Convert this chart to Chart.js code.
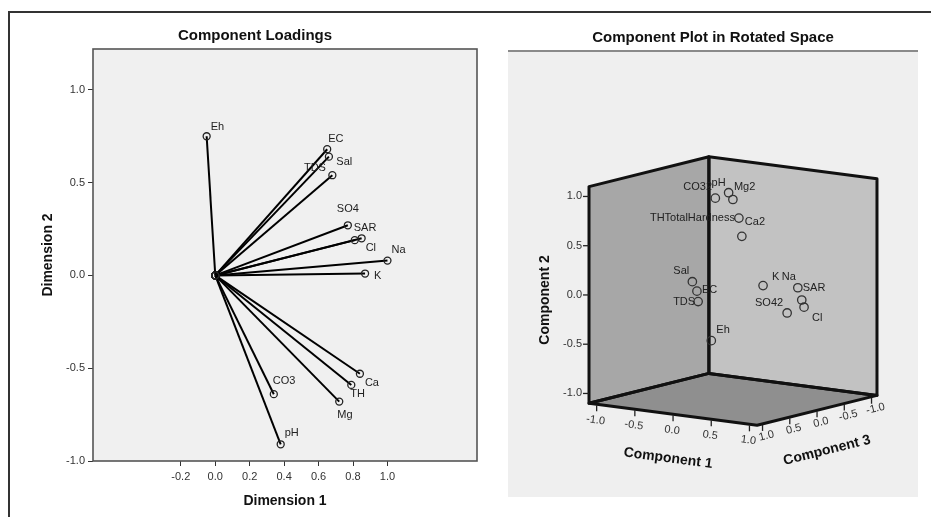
<!DOCTYPE html>
<html>
<head>
<meta charset="utf-8">
<script src="https://cdn.jsdelivr.net/npm/chart.js@4.4.1/dist/chart.umd.min.js"></script>
<style>
  html, body { margin: 0; padding: 0; background: #fff; }
  body { width: 931px; height: 517px; position: relative; overflow: hidden; }
  #frame { position: absolute; left: 8px; top: 11px; width: 1000px; height: 600px; border-top: 2px solid #333; border-left: 2px solid #333; }
  #loadings { position: absolute; left: 0; top: 0; }
  #rotated { position: absolute; left: 508px; top: 0; }
</style>
</head>
<body>
<div id="frame"></div>
<canvas id="loadings" width="510" height="517"></canvas>
<canvas id="rotated" width="410" height="497"></canvas>
<script>
'use strict';

const FONT = '"Liberation Sans", Arial, sans-serif';

// left panel: component loadings
const loadingNames = ['Eh', 'EC', 'TDS', 'Sal', 'SO4', 'SAR', 'Cl', 'Na', 'K', 'Ca', 'TH', 'Mg', 'CO3', 'pH'];
const dimension1 = [-0.05, 0.65, 0.66, 0.68, 0.77, 0.81, 0.85, 1.00, 0.87, 0.84, 0.79, 0.72, 0.34, 0.38];
const dimension2 = [0.75, 0.68, 0.64, 0.54, 0.27, 0.19, 0.20, 0.08, 0.01, -0.53, -0.59, -0.68, -0.64, -0.91];
const dimTicksX = [-0.2, 0.0, 0.2, 0.4, 0.6, 0.8, 1.0];
const dimTicksY = [-1.0, -0.5, 0.0, 0.5, 1.0];

// right panel: component plot in rotated space
const componentNames = ['CO32', 'pH', 'Mg2', 'THTotalHardness', 'Ca2', 'Sal', 'EC', 'TDS', 'Eh', 'K', 'Na', 'SAR', 'Cl', 'SO42'];
const component1 = [-0.16, -0.20, 0.07, 0.22, 0.33, 0.11, 0.17, 0.20, -0.07, 0.75, 0.92, 0.90, 0.93, 0.78];
const component2 = [0.94, 0.95, 0.95, 0.79, 0.63, 0.23, 0.14, 0.04, -0.47, 0.20, 0.14, 0.00, -0.07, -0.13];
const component3 = [0.10, -0.20, 0.10, 0.20, 0.30, 0.90, 0.90, 0.92, 0.30, 0.50, 0.10, 0.00, 0.00, 0.10];
const compTicks = [-1.0, -0.5, 0.0, 0.5, 1.0];

// label placement (dx, dy, align) - styling only
const loadingLabelPos = [[4, -9], [1, -10], [-25, 11], [4, -13], [-11, -16], [-1, -12], [4, 10],
  [4, -11], [9, 2], [5, 9], [-1, 9], [-2, 13], [-1, -13], [4, -11]];
const componentLabelPos = [[-32, -11], [-17, -10], [1, -13], [-4, 0, 'right'], [3, -14], [-19, -11], [5, -1],
  [-3, 0, 'right'], [5, -11], [9, -9], [-16, -11], [1, -12], [8, 11], [-4, -10, 'right']];

// simple oblique view of the 3d box
const boxHalf = 1.1;
const view = {ox: 225, oy: 239, e1: [76.4, 10], e2: [0, -98.5], e3: [-54.5, 13.6]};

function project(a, b, c) {
  return {
    x: view.ox + a * view.e1[0] + b * view.e2[0] + c * view.e3[0],
    y: view.oy + a * view.e1[1] + b * view.e2[1] + c * view.e3[1]
  };
}

function toPx(chart, a, b, c) {
  const p = project(a, b, c);
  return [chart.scales.x.getPixelForValue(p.x), chart.scales.y.getPixelForValue(p.y)];
}

const plotFrame = {
  id: 'plotFrame',
  beforeDraw(chart) {
    const {ctx, chartArea: a} = chart;
    ctx.save();
    ctx.fillStyle = '#f0f0f0';
    ctx.fillRect(a.left, a.top, a.width, a.height);
    ctx.restore();
  },
  afterDraw(chart) {
    const {ctx, chartArea: a} = chart;
    ctx.save();
    ctx.strokeStyle = '#555';
    ctx.lineWidth = 1.6;
    ctx.strokeRect(a.left, a.top, a.width, a.height);
    ctx.restore();
  }
};

const loadingLabels = {
  id: 'loadingLabels',
  afterDatasetsDraw(chart) {
    const ctx = chart.ctx;
    ctx.save();
    ctx.font = '11px ' + FONT;
    ctx.fillStyle = '#222';
    ctx.textBaseline = 'middle';
    loadingNames.forEach((name, i) => {
      const el = chart.getDatasetMeta(i).data[1];
      ctx.fillText(name, el.x + loadingLabelPos[i][0], el.y + loadingLabelPos[i][1]);
    });
    ctx.restore();
  }
};

new Chart(document.getElementById('loadings'), {
  type: 'scatter',
  data: {
    datasets: loadingNames.map((name, i) => ({
      label: name,
      data: [{x: 0, y: 0}, {x: dimension1[i], y: dimension2[i]}],
      showLine: true,
      borderColor: '#000',
      borderWidth: 2,
      pointRadius: 3.5,
      pointBorderColor: '#222',
      pointBorderWidth: 1.3,
      pointBackgroundColor: 'rgba(0,0,0,0)'
    }))
  },
  options: {
    responsive: false,
    animation: false,
    layout: {padding: {left: 33, right: 33}, autoPadding: false},
    plugins: {
      legend: {display: false},
      tooltip: {enabled: false},
      title: {
        display: true,
        text: 'Component Loadings',
        color: '#111',
        font: {family: FONT, size: 15, weight: 'bold'},
        padding: {top: 27, bottom: 4}
      }
    },
    scales: {
      x: {
        min: -0.71,
        max: 1.52,
        afterFit: s => { s.height = 56; },
        afterBuildTicks: s => { s.ticks = dimTicksX.map(v => ({value: v})); },
        grid: {drawOnChartArea: false, tickLength: 5, tickColor: '#333'},
        border: {display: false},
        ticks: {color: '#333', autoSkip: false, maxRotation: 0, padding: 4,
          font: {family: FONT, size: 11}, callback: v => v.toFixed(1)},
        title: {display: true, text: 'Dimension 1', color: '#111',
          font: {family: FONT, size: 14, weight: 'bold'}, padding: {bottom: 7}}
      },
      y: {
        min: -1.0,
        max: 1.22,
        afterFit: s => { s.width = 60; },
        afterBuildTicks: s => { s.ticks = dimTicksY.map(v => ({value: v})); },
        grid: {drawOnChartArea: false, tickLength: 5, tickColor: '#333'},
        border: {display: false},
        ticks: {color: '#333', autoSkip: false, padding: 3,
          font: {family: FONT, size: 11}, callback: v => v.toFixed(1)},
        title: {display: true, text: 'Dimension 2', color: '#111',
          font: {family: FONT, size: 14, weight: 'bold'}, padding: {top: 7}}
      }
    }
  },
  plugins: [plotFrame, loadingLabels]
});

function drawText(ctx, text, x, y, angle, align) {
  ctx.save();
  ctx.translate(x, y);
  ctx.rotate(angle);
  ctx.textAlign = align || 'center';
  ctx.textBaseline = 'middle';
  ctx.fillText(text, 0, 0);
  ctx.restore();
}

const box3d = {
  id: 'box3d',
  beforeDraw(chart) {
    const {ctx, chartArea: a} = chart;
    ctx.save();
    ctx.fillStyle = '#efefef';
    ctx.fillRect(a.left, a.top, a.width, a.height);
    ctx.fillStyle = '#8a8a8a';
    ctx.fillRect(a.left, a.top - 2, a.width, 2);
    ctx.restore();
  },
  beforeDatasetsDraw(chart) {
    const ctx = chart.ctx;
    const B = boxHalf;
    const walls = [
      {fill: '#8f8f8f', pts: [[-B, -B, B], [B, -B, B], [B, -B, -B], [-B, -B, -B]]},
      {fill: '#a7a7a7', pts: [[-B, -B, B], [-B, -B, -B], [-B, B, -B], [-B, B, B]]},
      {fill: '#c2c2c2', pts: [[-B, -B, -B], [B, -B, -B], [B, B, -B], [-B, B, -B]]}
    ];
    ctx.save();
    walls.forEach(w => {
      ctx.beginPath();
      w.pts.forEach((p, k) => {
        const q = toPx(chart, p[0], p[1], p[2]);
        if (k === 0) ctx.moveTo(q[0], q[1]); else ctx.lineTo(q[0], q[1]);
      });
      ctx.closePath();
      ctx.fillStyle = w.fill;
      ctx.fill();
    });
    ctx.strokeStyle = '#111';
    ctx.lineWidth = 3;
    ctx.lineJoin = 'round';
    walls.forEach(w => {
      ctx.beginPath();
      w.pts.forEach((p, k) => {
        const q = toPx(chart, p[0], p[1], p[2]);
        if (k === 0) ctx.moveTo(q[0], q[1]); else ctx.lineTo(q[0], q[1]);
      });
      ctx.closePath();
      ctx.stroke();
    });

    // ticks
    ctx.lineWidth = 1.3;
    ctx.strokeStyle = '#222';
    ctx.fillStyle = '#333';
    ctx.font = '11px ' + FONT;
    const a1 = Math.atan2(view.e1[1], view.e1[0]);
    const a3 = Math.atan2(-view.e3[1], -view.e3[0]);
    compTicks.forEach(v => {
      let q = toPx(chart, -B, v, B);
      ctx.beginPath(); ctx.moveTo(q[0] - 6, q[1]); ctx.lineTo(q[0], q[1]); ctx.stroke();
      drawText(ctx, v.toFixed(1), q[0] - 7, q[1], 0, 'right');

      q = toPx(chart, v, -B, B);
      ctx.beginPath(); ctx.moveTo(q[0], q[1] + 1); ctx.lineTo(q[0], q[1] + 7); ctx.stroke();
      drawText(ctx, v.toFixed(1), q[0] - 1, q[1] + 16, a1);

      q = toPx(chart, B, -B, v);
      ctx.beginPath(); ctx.moveTo(q[0], q[1] + 1); ctx.lineTo(q[0], q[1] + 7); ctx.stroke();
      drawText(ctx, v.toFixed(1), q[0] + 4, q[1] + 12, a3);
    });

    // axis titles
    ctx.fillStyle = '#111';
    ctx.font = 'bold 14px ' + FONT;
    let q = toPx(chart, 0, -B, B);
    drawText(ctx, 'Component 1', q[0] - 5, q[1] + 44, a1);
    q = toPx(chart, B, -B, 0);
    drawText(ctx, 'Component 3', q[0] + 10, q[1] + 40, a3);
    q = toPx(chart, -B, 0, B);
    drawText(ctx, 'Component 2', q[0] - 44, q[1] + 5, -Math.PI / 2);
    ctx.restore();
  },
  afterDatasetsDraw(chart) {
    const ctx = chart.ctx;
    const meta = chart.getDatasetMeta(0);
    ctx.save();
    ctx.font = '11px ' + FONT;
    ctx.fillStyle = '#222';
    ctx.textBaseline = 'middle';
    componentNames.forEach((name, i) => {
      const el = meta.data[i];
      const pos = componentLabelPos[i];
      ctx.textAlign = pos[2] || 'left';
      ctx.fillText(name, el.x + pos[0], el.y + pos[1]);
    });
    ctx.restore();
  }
};

new Chart(document.getElementById('rotated'), {
  type: 'scatter',
  data: {
    datasets: [{
      label: 'components',
      data: componentNames.map((n, i) => project(component1[i], component2[i], component3[i])),
      pointRadius: 4.2,
      pointBorderColor: '#333',
      pointBorderWidth: 1.3,
      pointBackgroundColor: 'rgba(0,0,0,0)'
    }]
  },
  options: {
    responsive: false,
    animation: false,
    layout: {padding: 0, autoPadding: false},
    plugins: {
      legend: {display: false},
      tooltip: {enabled: false},
      title: {
        display: true,
        text: 'Component Plot in Rotated Space',
        color: '#111',
        font: {family: FONT, size: 15, weight: 'bold'},
        padding: {top: 29, bottom: 5}
      }
    },
    scales: {
      x: {display: false, min: 0, max: 410},
      y: {display: false, min: 0, max: 445, reverse: true}
    }
  },
  plugins: [box3d]
});
</script>
</body>
</html>
